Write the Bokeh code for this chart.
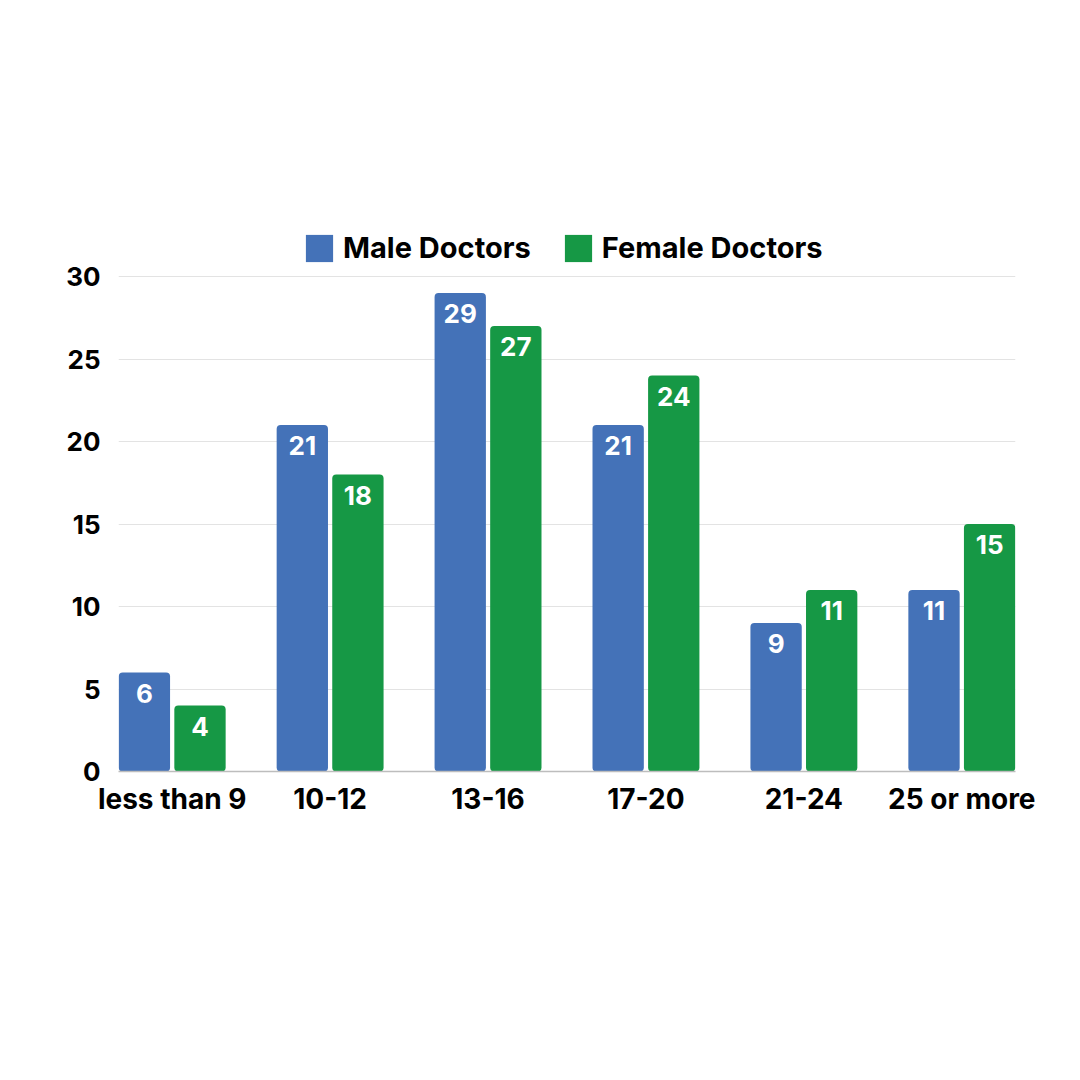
from bokeh.plotting import figure
from bokeh.models import ColumnDataSource, Range1d, FixedTicker, Legend, LegendItem
from bokeh.embed import file_html
from bokeh.resources import INLINE
from bokeh.core.properties import value

categories = ["less than 9", "10-12", "13-16", "17-20", "21-24", "25 or more"]
male = [6, 21, 29, 21, 9, 11]
female = [4, 18, 27, 24, 11, 15]
series_names = ["Male Doctors", "Female Doctors"]
colors = ["#4472B8", "#169845"]
y_ticks = [0, 5, 10, 15, 20, 25, 30]

FONT = "Inter"
idx = list(range(len(categories)))
off = 0.176
w = 0.325

src_m = ColumnDataSource(dict(x=[i - off for i in idx], top=male, lab=[str(v) for v in male]))
src_f = ColumnDataSource(dict(x=[i + off for i in idx], top=female, lab=[str(v) for v in female]))

# frame extends above the 30 line to leave room for the legend
p = figure(width=1064, height=1064, output_backend="svg", toolbar_location=None,
           x_range=Range1d(-0.34, 5.34), y_range=Range1d(0, 33.46),
           min_border_left=118, min_border_right=49, min_border_top=219, min_border_bottom=293)
p.outline_line_color = None
p.background_fill_color = "white"

r1 = p.vbar(x="x", top="top", width=w, source=src_m, fill_color=colors[0], line_color=None, border_radius=4)
r2 = p.vbar(x="x", top="top", width=w, source=src_f, fill_color=colors[1], line_color=None, border_radius=4)

for s in (src_m, src_f):
    p.text(x="x", y="top", text="lab", source=s, text_color="white", text_align="center",
           text_baseline="top", y_offset=11, text_font=value(FONT), text_font_size="26px",
           text_font_style="bold")

p.xgrid.grid_line_color = None
p.ygrid.grid_line_color = "#E3E3E3"
p.ygrid.grid_line_width = 1

p.yaxis.ticker = FixedTicker(ticks=y_ticks)
p.yaxis.axis_line_color = None
p.yaxis.major_tick_line_color = None
p.yaxis.minor_tick_line_color = None
p.yaxis.major_label_text_font = FONT
p.yaxis.major_label_text_font_style = "bold"
p.yaxis.major_label_text_font_size = "26px"
p.yaxis.major_label_text_color = "black"
p.yaxis.major_label_standoff = 12

p.xaxis.ticker = FixedTicker(ticks=idx)
p.xaxis.major_label_overrides = {i: c for i, c in zip(idx, categories)}
p.xaxis.axis_line_color = "#BDBDBD"
p.xaxis.axis_line_width = 1.5
p.xaxis.major_tick_line_color = None
p.xaxis.minor_tick_line_color = None
p.xaxis.major_label_text_font = FONT
p.xaxis.major_label_text_font_style = "bold"
p.xaxis.major_label_text_font_size = "28px"
p.xaxis.major_label_text_color = "black"
p.xaxis.major_label_standoff = 4

legend = Legend(items=[LegendItem(label=series_names[0], renderers=[r1]),
                       LegendItem(label=series_names[1], renderers=[r2])],
                orientation="horizontal", location=(184, 506),
                glyph_width=34, glyph_height=34, label_standoff=7, spacing=30,
                label_text_font=FONT, label_text_font_style="bold", label_text_font_size="29px",
                label_text_color="black", border_line_color=None, background_fill_alpha=0,
                padding=0, margin=0, label_height=34)
p.add_layout(legend, "center")

open("out.html", "w").write(file_html(p, INLINE))
